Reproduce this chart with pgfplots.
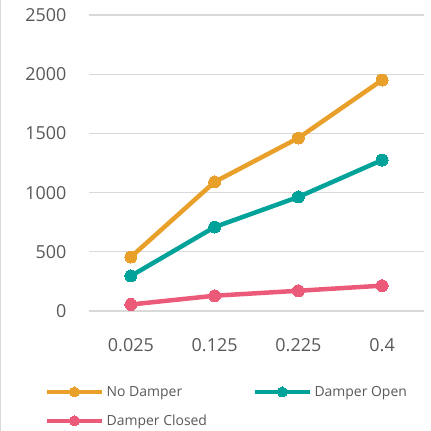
\documentclass[border=0pt]{standalone}
\usepackage{fontspec}
\setmainfont{Open Sans}
\usepackage{pgfplots}
\pgfplotsset{compat=1.18}
\definecolor{cOrange}{HTML}{E8A02A}
\definecolor{cTeal}{HTML}{00A29A}
\definecolor{cPink}{HTML}{EC5A7A}
\definecolor{cGrid}{HTML}{D9D9D9}
\definecolor{cText}{HTML}{595959}
\begin{document}
\begin{tikzpicture}
\useasboundingbox (-89bp,-120bp) rectangle (342bp,311bp);
\draw[cGrid, line width=1bp] (-88.5bp,-120bp) -- (-88.5bp,311bp);
\begin{axis}[
  at={(0,0)}, anchor=south west,
  scale only axis, width=335bp, height=296bp,
  xmin=-0.5, xmax=3.5, ymin=0, ymax=2500,
  xtick={0,1,2,3}, xticklabels={0.025,0.125,0.225,0.4},
  ytick={0,500,1000,1500,2000,2500},
  axis line style={draw=none},
  major tick length=0pt,
  ymajorgrids, major grid style={cGrid, line width=1.2bp},
  tick label style={font=\fontsize{18}{20}\selectfont, text=cText},
  /pgf/number format/assume math mode=true,
  /pgf/number format/1000 sep={},
  yticklabel style={xshift=-19bp},
  xticklabel style={yshift=-24bp},
  legend columns=2,
  legend cell align=left,
  legend style={at={(-47bp,-71bp)}, anchor=north west, draw=none, fill=none,
    font=\fontsize{14}{16}\selectfont, text=cText,
    row sep=13bp,
    /tikz/every even column/.append style={column sep=44bp}},
  legend image code/.code={\draw[mark repeat=2,mark phase=2,#1,mark size=5bp] plot coordinates {(0bp,0bp) (27bp,0bp) (55bp,0bp)};},
  every axis plot/.append style={line width=4.5bp, mark=*, mark size=6bp},
]
\addplot[cOrange, mark options={fill=cOrange, line width=0pt}] coordinates {(0,456) (1,1090) (2,1461) (3,1951)};
\addlegendentry{No Damper}
\addplot[cTeal, mark options={fill=cTeal, line width=0pt}] coordinates {(0,296) (1,709) (2,963) (3,1275)};
\addlegendentry{Damper Open}
\addplot[cPink, mark options={fill=cPink, line width=0pt}] coordinates {(0,55) (1,129) (2,171) (3,214)};
\addlegendentry{Damper Closed}
\end{axis}
\end{tikzpicture}
\end{document}
